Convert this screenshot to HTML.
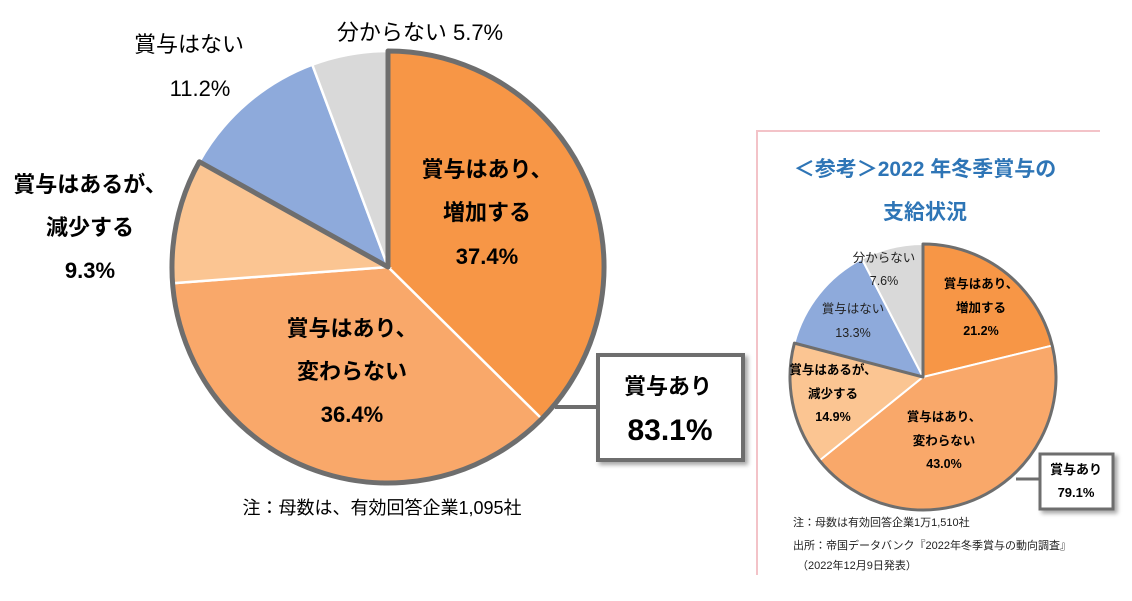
<!DOCTYPE html>
<html><head><meta charset="utf-8"><style>
body{margin:0;background:#fff;}
svg text{font-family:"Liberation Sans","Noto Sans CJK JP",sans-serif;}
</style></head><body>
<svg width="1132" height="596" viewBox="0 0 1132 596" xmlns="http://www.w3.org/2000/svg">
<defs>
<filter id="sh" x="-20%" y="-20%" width="150%" height="150%"><feDropShadow dx="3" dy="3" stdDeviation="2" flood-color="#000" flood-opacity="0.35"/></filter>
</defs>
<g id="main"></g>
<g id="ref"></g>

<g font-size="22" fill="#000">
<text x="420" y="40" text-anchor="middle">分からない 5.7%</text>
<text x="189" y="52" text-anchor="middle">賞与はない</text>
<text x="200" y="96" text-anchor="middle">11.2%</text>
<text x="90" y="192" text-anchor="middle" font-weight="bold">賞与はあるが、</text>
<text x="90" y="235" text-anchor="middle" font-weight="bold">減少する</text>
<text x="90" y="278" text-anchor="middle" font-weight="bold">9.3%</text>
</g>
<g font-size="22" font-weight="bold" fill="#000" text-anchor="middle">
<text x="487" y="177">賞与はあり、</text>
<text x="487" y="220">増加する</text>
<text x="487" y="264">37.4%</text>
<text x="352" y="336">賞与はあり、</text>
<text x="352" y="379">変わらない</text>
<text x="352" y="422">36.4%</text>
</g>
<line x1="555" y1="407" x2="598" y2="407" stroke="#6e6e6e" stroke-width="4"/>
<g filter="url(#sh)">
<rect x="598" y="355" width="145" height="105" fill="#fff" stroke="#6e6e6e" stroke-width="4"/>
</g>
<text x="668" y="394" text-anchor="middle" font-size="22" font-weight="bold">賞与あり</text>
<text x="670" y="440" text-anchor="middle" font-size="30" font-weight="bold">83.1%</text>
<text x="382" y="514" text-anchor="middle" font-size="18">注：母数は、有効回答企業1,095社</text>

<path d="M757 575 V131 H1100" fill="none" stroke="#f3c3c8" stroke-width="2"/>
<text x="925" y="176" text-anchor="middle" font-size="21" font-weight="bold" fill="#2e75b6">＜参考＞2022 年冬季賞与の</text>
<text x="925" y="219" text-anchor="middle" font-size="21" font-weight="bold" fill="#2e75b6">支給状況</text>
<g font-size="12.5" fill="#222" text-anchor="middle">
<text x="884" y="262">分からない</text><text x="884" y="285">7.6%</text>
<text x="853" y="313">賞与はない</text><text x="853" y="337">13.3%</text>
</g>
<g font-size="12.5" font-weight="bold" fill="#000" text-anchor="middle">
<text x="981" y="288">賞与はあり、</text><text x="981" y="312">増加する</text><text x="981" y="335">21.2%</text>
<text x="833" y="374">賞与はあるが、</text><text x="833" y="398">減少する</text><text x="833" y="421">14.9%</text>
<text x="944" y="421">賞与はあり、</text><text x="944" y="445">変わらない</text><text x="944" y="468">43.0%</text>
</g>
<line x1="1016" y1="479" x2="1040" y2="479" stroke="#6e6e6e" stroke-width="3"/>
<g filter="url(#sh)"><rect x="1040" y="454" width="73" height="55" fill="#fff" stroke="#6e6e6e" stroke-width="3"/></g>
<text x="1076" y="474" text-anchor="middle" font-size="13" font-weight="bold">賞与あり</text>
<text x="1076" y="497" text-anchor="middle" font-size="13" font-weight="bold">79.1%</text>
<g font-size="11" fill="#222">
<text x="793" y="526">注：母数は有効回答企業1万1,510社</text>
<text x="793" y="549">出所：帝国データバンク『2022年冬季賞与の動向調査』</text>
<text x="797" y="569">（2022年12月9日発表）</text>
</g>
</svg>
<script>
const mainValues=[37.4,36.4,9.3,11.2,5.7];
const refValues=[21.2,43.0,14.9,13.3,7.6];
const sliceNames=['increase','same','decrease','no-bonus','unknown'];
const colors=['#f79646','#f9a86a','#fbc592','#8eaadb','#d9d9d9'];
const NS='http://www.w3.org/2000/svg';
function pt(cx,cy,r,f){const a=f*2*Math.PI;return [cx+r*Math.sin(a),cy-r*Math.cos(a)];}
function drawPie(g,vals,cx,cy,r,sw,bw,prefix){
  const tot=vals.reduce((a,b)=>a+b,0);let acc=0;
  vals.forEach((v,i)=>{
    const f0=acc/tot,f1=(acc+v)/tot;acc+=v;
    const p0=pt(cx,cy,r,f0),p1=pt(cx,cy,r,f1);
    const p=document.createElementNS(NS,'path');
    p.setAttribute('d',`M${cx},${cy}L${p0[0]},${p0[1]}A${r},${r} 0 ${f1-f0>0.5?1:0} 1 ${p1[0]},${p1[1]}Z`);
    p.setAttribute('fill',colors[i]);p.setAttribute('stroke','#fff');p.setAttribute('stroke-width',sw);
    
    
    g.appendChild(p);
  });
  const fy=(vals[0]+vals[1]+vals[2])/tot;
  const a=pt(cx,cy,r,0),b=pt(cx,cy,r,fy);
  const o=document.createElementNS(NS,'path');
  o.setAttribute('d',`M${cx},${cy}L${a[0]},${a[1]}A${r},${r} 0 ${fy>0.5?1:0} 1 ${b[0]},${b[1]}Z`);
  o.setAttribute('fill','none');o.setAttribute('stroke','#6e6e6e');o.setAttribute('stroke-width',bw);o.setAttribute('stroke-linejoin','round');
  
  
  g.appendChild(o);
}
drawPie(document.getElementById('main'),mainValues,388,267,216,2.5,5,'main');
drawPie(document.getElementById('ref'),refValues,923,377,133,2,3,'reference');
</script>
</body></html>
